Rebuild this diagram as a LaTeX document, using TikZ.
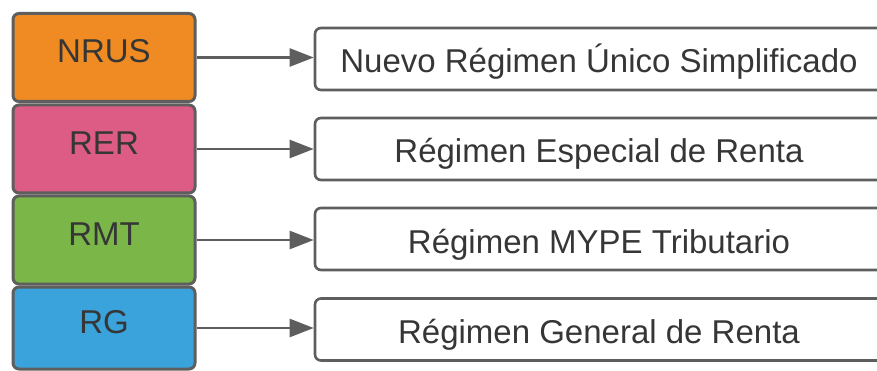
\documentclass[tikz,border=0pt]{standalone}
\usepackage{fontspec}
\setmainfont{Liberation Sans}
\usetikzlibrary{arrows.meta}

\definecolor{edge}{HTML}{5E5E5E}
\definecolor{ink}{HTML}{363636}
\definecolor{cNRUS}{HTML}{EF8B22}
\definecolor{cRER}{HTML}{DD5C86}
\definecolor{cRMT}{HTML}{7AB648}
\definecolor{cRG}{HTML}{3AA3DC}

\tikzset{
  code/.style={draw=edge, line width=3pt, rounded corners=6pt,
    minimum width=182pt, text=ink, inner sep=0pt,
    font=\fontsize{33pt}{36pt}\selectfont,
    text height=24pt, text depth=13pt},
  regime/.style={draw=edge, line width=2.6pt, rounded corners=6pt, fill=white,
    minimum width=568pt, minimum height=62pt, text=ink, inner sep=0pt,
    font=\fontsize{33pt}{36pt}\selectfont,
    text height=28pt, text depth=0pt},
  link/.style={draw=edge, line width=2.4pt,
    -{Triangle[length=24pt,width=18pt]}}
}

\begin{document}
\begin{tikzpicture}[x=1pt, y=-1pt]
  \useasboundingbox (0,0) rectangle (877,371);
  \clip (0,0) rectangle (877,371);

  % tax regime codes (left column)
  \node[code, fill=cNRUS, minimum height=88pt] (nrus) at (104,57.5)  {NRUS};
  \node[code, fill=cRER,  minimum height=88pt] (rer)  at (104,149)   {RER};
  \node[code, fill=cRMT,  minimum height=88pt] (rmt)  at (104,240)   {RMT};
  \node[code, fill=cRG,   minimum height=82pt] (rg)   at (104,328)   {RG};

  % full names (right column)
  \node[regime] (nrusT) at (599,59)  {Nuevo Régimen Único Simplificado};
  \node[regime] (rerT)  at (599,149) {Régimen Especial de Renta};
  \node[regime] (rmtT)  at (599,239) {Régimen MYPE Tributario};
  \node[regime] (rgT)   at (599,329.5) {Régimen General de Renta};

  % connectors
  \draw[link] (nrus.east) -- (nrus.east -| nrusT.west);
  \draw[link] (rer.east)  -- (rer.east -| rerT.west);
  \draw[link] (rmt.east)  -- (rmt.east -| rmtT.west);
  \draw[link] (rg.east)   -- (rg.east -| rgT.west);
\end{tikzpicture}
\end{document}
